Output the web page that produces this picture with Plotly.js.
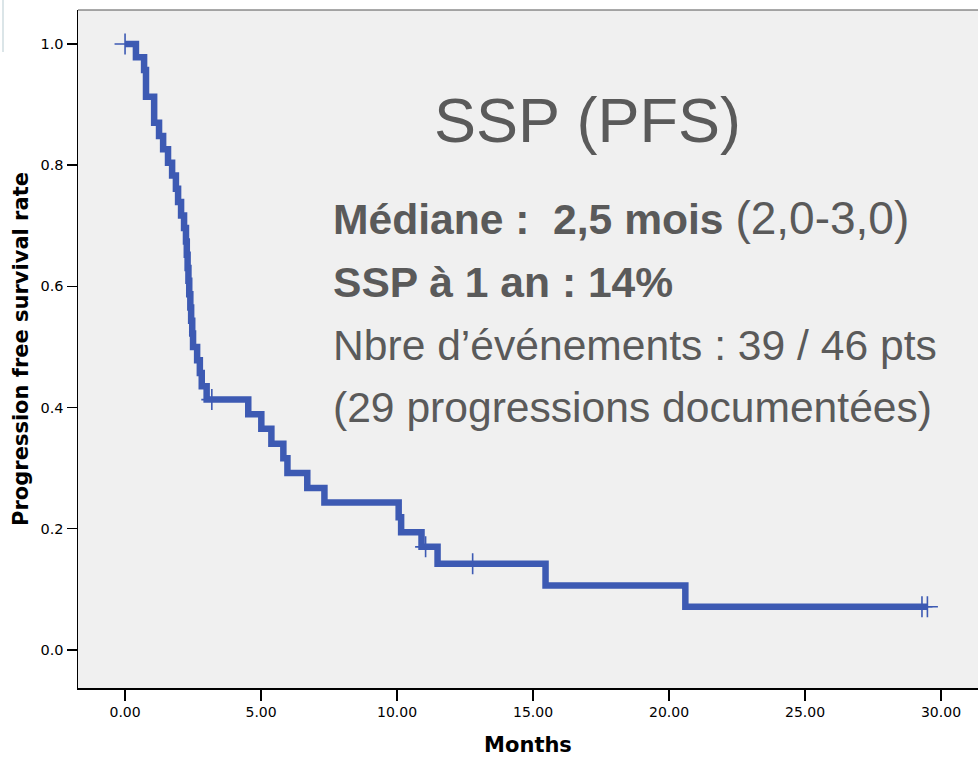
<!DOCTYPE html>
<html>
<head>
<meta charset="utf-8">
<script src="https://cdn.plot.ly/plotly-3.0.1.min.js"></script>
<style>
  html, body { margin: 0; padding: 0; background: #ffffff; }
  #chart { width: 978px; height: 757px; }
</style>
</head>
<body>
<div id="chart"></div>
<script>
// Kaplan-Meier step points (months, survival proportion)
const stepMonths = [0, 0.40, 0.70, 0.77, 1.07, 1.25, 1.40, 1.58, 1.73, 1.87, 1.95, 2.06, 2.17,
  2.24, 2.27, 2.30, 2.33, 2.36, 2.40, 2.43, 2.47, 2.50, 2.65, 2.75, 2.82, 3.00,
  4.53, 5.01, 5.38, 5.82, 5.97, 6.70, 7.33, 10.06, 10.15, 10.90, 11.49, 15.46, 20.60, 29.50];
const survival = [1.000, 0.978, 0.957, 0.913, 0.870, 0.848, 0.826, 0.804, 0.783, 0.761, 0.739, 0.717, 0.696,
  0.674, 0.652, 0.630, 0.609, 0.587, 0.565, 0.543, 0.522, 0.500, 0.478, 0.457, 0.435, 0.413,
  0.389, 0.365, 0.340, 0.316, 0.292, 0.267, 0.243, 0.219, 0.194, 0.170, 0.142, 0.106, 0.071, 0.071];

// Censored observations
const censorMonths = [0, 3.19, 11.05, 12.78, 29.30, 29.50];
const censorSurvival = [1.000, 0.413, 0.170, 0.142, 0.071, 0.071];

// Axis ticks
const xTicks = [0, 5, 10, 15, 20, 25, 30];
const xTickLabels = ["0.00", "5.00", "10.00", "15.00", "20.00", "25.00", "30.00"];
const yTicks = [0, 0.2, 0.4, 0.6, 0.8, 1.0];
const yTickLabels = ["0.0", "0.2", "0.4", "0.6", "0.8", "1.0"];

// Overlay texts
const titleText = "SSP (PFS)";
const infoLines = [
  "<b>Médiane :\u00a0 2,5 mois</b> <span style=\"font-size:46px\">(2,0-3,0)</span>",
  "<b>SSP à 1 an : 14%</b>",
  "Nbre d’événements : 39 / 46 pts",
  "(29 progressions documentées)"
];

const blue = "#3d5ab3";
const textGray = "#5a5a5a";

const traces = [
  {
    x: stepMonths, y: survival, type: "scatter", mode: "lines",
    line: { shape: "hv", color: blue, width: 6.5 },
    hoverinfo: "skip", showlegend: false
  },
  {
    x: censorMonths, y: censorSurvival, type: "scatter", mode: "markers",
    marker: { symbol: "cross-thin", size: 15, color: blue, line: { color: blue, width: 1.6 } },
    hoverinfo: "skip", showlegend: false
  }
];

const L = 78, T = 10, W = 900, H = 678;
function px2x(px) { return (px - L) / W; }
function py2y(py) { return (T + H - py) / H; }

const infoY = [218, 282, 345, 407];
const annotations = [
  { text: titleText, xref: "paper", yref: "paper", x: px2x(587), y: py2y(120),
    xanchor: "center", yanchor: "middle", showarrow: false,
    font: { family: "Liberation Sans, Arial, sans-serif", size: 63, color: textGray } }
].concat(infoLines.map((t, i) => ({
  text: t, xref: "paper", yref: "paper", x: px2x(331), y: py2y(infoY[i]),
  xanchor: "left", yanchor: "middle", showarrow: false,
  font: { family: "Liberation Sans, Arial, sans-serif", size: 42.6, color: textGray }
})));

const layout = {
  width: 978, height: 757,
  margin: { l: L, r: 0, t: T, b: 757 - T - H },
  paper_bgcolor: "#ffffff",
  plot_bgcolor: "#f0f0f0",
  showlegend: false,
  xaxis: {
    range: [-1.73, 31.36], tickvals: xTicks, ticktext: xTickLabels,
    ticks: "outside", ticklen: 11, tickwidth: 1.5, tickcolor: "#000",
    showline: true, linecolor: "#000", linewidth: 1.5,
    showgrid: false, zeroline: false,
    tickfont: { family: "DejaVu Sans, sans-serif", size: 14, color: "#000" },
    title: { text: "<b>Months</b>", standoff: 19,
      font: { family: "DejaVu Sans, sans-serif", size: 21, color: "#000" } }
  },
  yaxis: {
    range: [-0.063, 1.056], tickvals: yTicks, ticktext: yTickLabels,
    ticks: "outside", ticklen: 10, tickwidth: 1.5, tickcolor: "#000",
    showline: true, linecolor: "#000", linewidth: 1.5,
    showgrid: false, zeroline: false,
    tickfont: { family: "DejaVu Sans, sans-serif", size: 14.5, color: "#000" },
    title: { text: "<b>Progression free survival rate</b>", standoff: 6,
      font: { family: "DejaVu Sans, sans-serif", size: 21, color: "#000" } }
  },
  shapes: [
    { type: "line", xref: "paper", yref: "paper", x0: 0, x1: 1, y0: 1, y1: 1,
      line: { color: "#555", width: 1.2 } },
    { type: "line", xref: "paper", yref: "paper", x0: px2x(3), x1: px2x(3), y0: py2y(0), y1: py2y(52),
      line: { color: "#cfdde0", width: 1.5 } }
  ],
  annotations: annotations
};

Plotly.newPlot("chart", traces, layout, { staticPlot: true, displayModeBar: false });
</script>
</body>
</html>
